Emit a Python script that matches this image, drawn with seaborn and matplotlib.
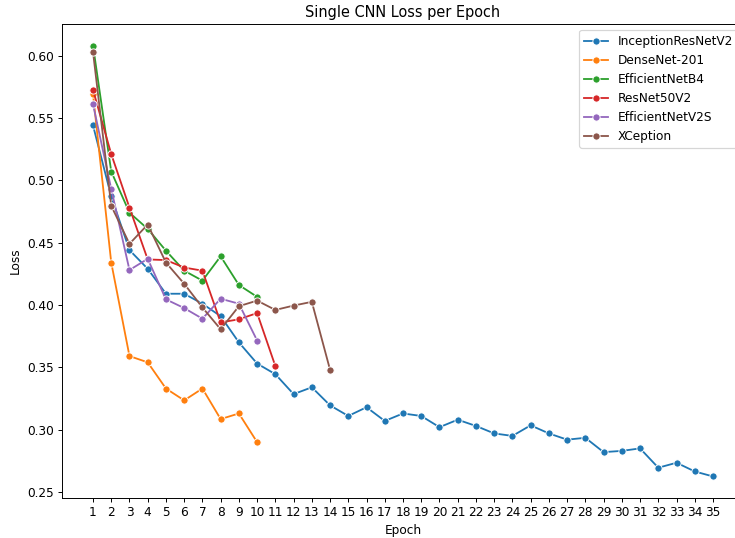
import pandas as pd
import matplotlib
matplotlib.use('Agg')
import matplotlib.pyplot as plt
import seaborn as sns

# loss values per model
inception_resnet_v2 = [0.544, 0.487, 0.444, 0.429, 0.409, 0.409, 0.401, 0.391, 0.370, 0.353,
                       0.3445, 0.3285, 0.334, 0.3195, 0.311, 0.318, 0.307, 0.313, 0.311, 0.302,
                       0.308, 0.303, 0.297, 0.295, 0.3035, 0.297, 0.292, 0.2935, 0.282, 0.283,
                       0.285, 0.2695, 0.2735, 0.2665, 0.2625]
densenet_201 = [0.569, 0.434, 0.359, 0.354, 0.333, 0.3235, 0.333, 0.3085, 0.313, 0.290]
efficientnet_b4 = [0.608, 0.507, 0.474, 0.461, 0.4435, 0.4275, 0.4195, 0.439, 0.416, 0.4065]
resnet50_v2 = [0.5725, 0.521, 0.478, 0.4365, 0.436, 0.430, 0.4275, 0.386, 0.3885, 0.3935, 0.351]
efficientnet_v2s = [0.561, 0.493, 0.428, 0.437, 0.4045, 0.3975, 0.389, 0.405, 0.401, 0.3715]
xception = [0.603, 0.4795, 0.449, 0.4645, 0.434, 0.417, 0.398, 0.3805, 0.399, 0.4035,
            0.396, 0.3995, 0.4025, 0.348]

models = {
    'InceptionResNetV2': inception_resnet_v2,
    'DenseNet-201': densenet_201,
    'EfficientNetB4': efficientnet_b4,
    'ResNet50V2': resnet50_v2,
    'EfficientNetV2S': efficientnet_v2s,
    'XCeption': xception,
}

# --- long format for seaborn ---
rows = []
for name, losses in models.items():
    for i, loss in enumerate(losses):
        rows.append({'Epoch': i + 1, 'Loss': loss, 'Model': name})
df = pd.DataFrame(rows)

fig = plt.figure(figsize=(735 / 87, 538 / 87), dpi=87)
# the original screenshot cuts off the right edge of the axes
ax = fig.add_axes([62 / 735, 1 - 498 / 538, (744 - 62) / 735, (498 - 24) / 538])

sns.lineplot(data=df, x='Epoch', y='Loss', hue='Model', marker='o', ax=ax)

ax.set_title('Single CNN Loss per Epoch')
ax.set_xticks(range(1, 36))
ax.legend(loc='upper right')

plt.savefig('out.png', dpi=87)
